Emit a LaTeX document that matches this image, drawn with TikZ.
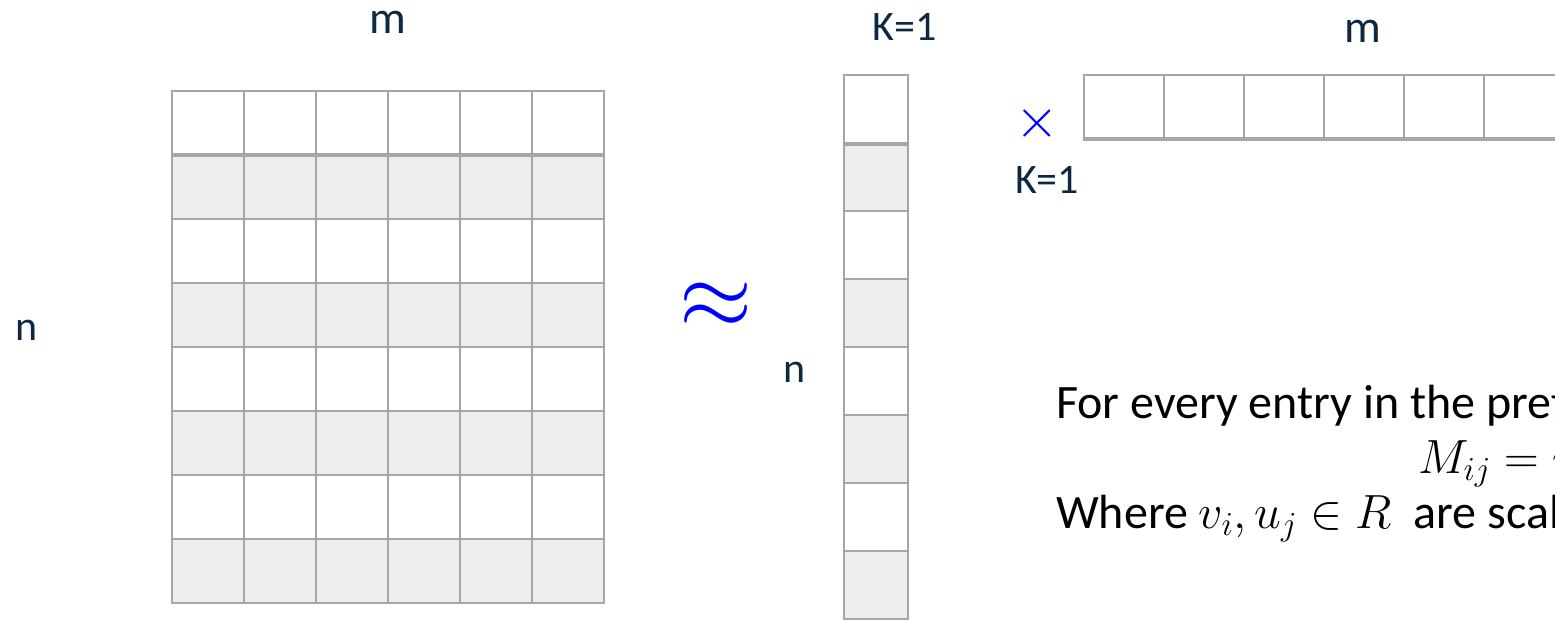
\RequirePackage{fix-cm}
\documentclass[tikz,border=0pt]{standalone}
\usepackage{fontspec}
\setmainfont{Carlito}
\definecolor{gridgray}{HTML}{A6A6A6}
\definecolor{cellfill}{HTML}{EDEDED}
\definecolor{labelnavy}{HTML}{0E2841}
\begin{document}
\begin{tikzpicture}[x=1pt,y=-1pt,
  gridline/.style={draw=gridgray,line width=2.8pt,line cap=rect},
  thickline/.style={draw=gridgray,line width=4.8pt},
  lab/.style={text=labelnavy,inner sep=0pt,font=\fontsize{42}{50}\selectfont},
  biglab/.style={text=labelnavy,inner sep=0pt,font=\fontsize{46}{54}\selectfont},
  body/.style={text=black,inner sep=0pt,anchor=base west,font=\fontsize{48}{56}\selectfont},
  bluesym/.style={text=blue,inner sep=0pt}]
\useasboundingbox (0,0) rectangle (1555,619);
\clip (0,0) rectangle (1555,619);
\fill[white] (0,0) rectangle (1555,619);
% large n x m matrix
\foreach \r in {1,3,5,7} \fill[cellfill] (172,91+64*\r) rectangle (604,155+64*\r);
\foreach \r in {0,...,8} \draw[gridline] (172,91+64*\r) -- (604,91+64*\r);
\foreach \c in {0,...,6} \draw[gridline] (172+72*\c,91) -- (172+72*\c,603);
\draw[thickline] (172,155) -- (604,155);
% column vector n x 1
\foreach \r in {1,3,5,7} \fill[cellfill] (844,75+68*\r) rectangle (908,143+68*\r);
\foreach \r in {0,...,8} \draw[gridline] (844,75+68*\r) -- (908,75+68*\r);
\foreach \c in {0,1} \draw[gridline] (844+64*\c,75) -- (844+64*\c,619);
\draw[thickline] (844,144) -- (908,144);
% row vector 1 x m
\draw[gridline] (1084,75) -- (1564,75);
\foreach \c in {0,...,6} \draw[gridline] (1084+80*\c,75) -- (1084+80*\c,139);
\draw[thickline] (1083,139) -- (1566,139);
% labels
\node[biglab] (mtop) at (388,22) {m};
\node[lab] (konetop) at (905,27) {K=1};
\node[biglab] (mright) at (1363,31) {m};
\node[lab] (konemid) at (1047,180) {K=1};
\node[lab] (nleft) at (27,330) {n};
\node[lab] (nmid) at (795,372) {n};
\node[bluesym,font=\fontsize{56}{64}\selectfont] (times) at (1037,123) {$\times$};
\node[bluesym,font=\fontsize{94}{100}\selectfont] (approx) at (716,306) {$\approx$};
% explanation text
\node[body] (lineone) at (1056,418) {For every entry in the preference matrix};
\node[body] (linetwo) at (1418,473) {$M_{ij} = v_i u_j$};
\node[body] (linethree) at (1056,528) {Where $v_i, u_j \in R$\ \ are scalars};
\end{tikzpicture}
\end{document}
